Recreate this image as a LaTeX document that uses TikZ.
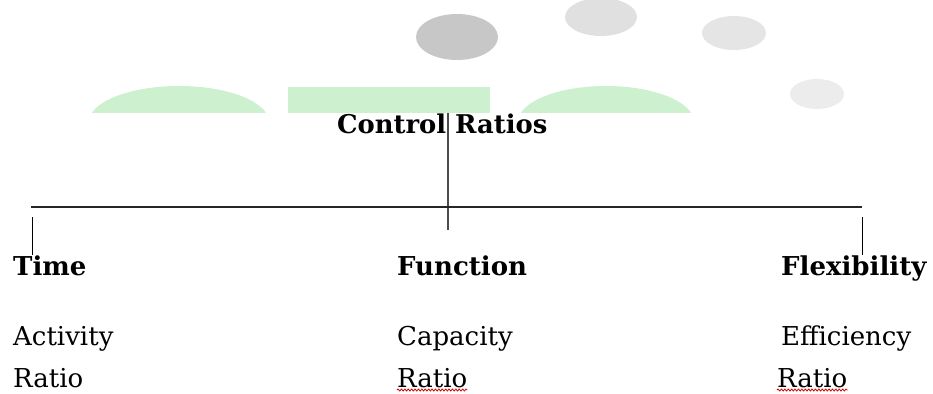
\documentclass[tikz,border=0pt]{standalone}
\usepackage{fontspec}
\setmainfont{DejaVu Serif}
\usetikzlibrary{decorations.pathmorphing}
\definecolor{softgreen}{RGB}{205,240,207}
\definecolor{darkgray}{RGB}{199,199,199}
\definecolor{lightgray}{RGB}{224,224,224}
\definecolor{palegray}{RGB}{236,236,237}
\begin{document}
\begin{tikzpicture}[x=1pt,y=-1pt, line join=round,
	head/.style={font=\fontsize{26}{30}\bfseries\selectfont, inner sep=0pt, anchor=base west},
	item/.style={font=\fontsize{26}{30}\selectfont, inner sep=0pt, anchor=base west},
	wavy/.style={red!85!black, line width=0.8pt, decorate, decoration={snake, amplitude=1.1pt, segment length=3.4pt}}]
		\useasboundingbox (0,0) rectangle (933,393);
		% background shapes
		\fill[darkgray] (457,37) ellipse (41 and 23);
		\fill[lightgray] (601,17) ellipse (36 and 19);
		\fill[lightgray!85] (734,33) ellipse (32 and 17);
		\fill[palegray] (817,94) ellipse (27 and 15);
		\begin{scope}
			\clip (0,0) rectangle (933,113);
			\fill[softgreen] (179,122) ellipse (90 and 36);
			\fill[softgreen] (606,122) ellipse (88 and 36);
		\end{scope}
		\fill[softgreen] (288,87) rectangle (490,113);
		% title and tree lines
		\node[head, font=\fontsize{25.8}{30}\bfseries\selectfont] (root) at (337,133) {Control Ratios};
		\coordinate (top) at (448,113);
		\coordinate (hub) at (448,230);
		\coordinate (barL) at (31,207);
		\coordinate (barR) at (862,207);
		\coordinate (tickL) at (32,217);
		\coordinate (tickR) at (862,217);
		\draw[black!70, line width=1.4pt] (top)--(hub);
		\draw[black!85, line width=1.2pt] (barL)--(barR);
		\draw[line width=1pt] (tickL)--(32,255) (tickR)--(862,255);
		% branches
		\node[head] (time) at (13,275) {Time};
		\node[head] (func) at (397,275) {Function};
		\node[head] (flex) at (781,275) {Flexibility};
		\node[item] (act) at (13,345) {Activity};
		\node[item] (ratA) at (13,387) {Ratio};
		\node[item] (cap) at (397,345) {Capacity};
		\node[item] (ratB) at (397,387) {Ratio};
		\node[item] (eff) at (781,345) {Efficiency};
		\node[item] (ratC) at (777,387) {Ratio};
		\draw[wavy] ([yshift=-3pt]ratB.base west)--([yshift=-3pt]ratB.base east);
		\draw[wavy] ([yshift=-3pt]ratC.base west)--([yshift=-3pt]ratC.base east);
\end{tikzpicture}
\end{document}
